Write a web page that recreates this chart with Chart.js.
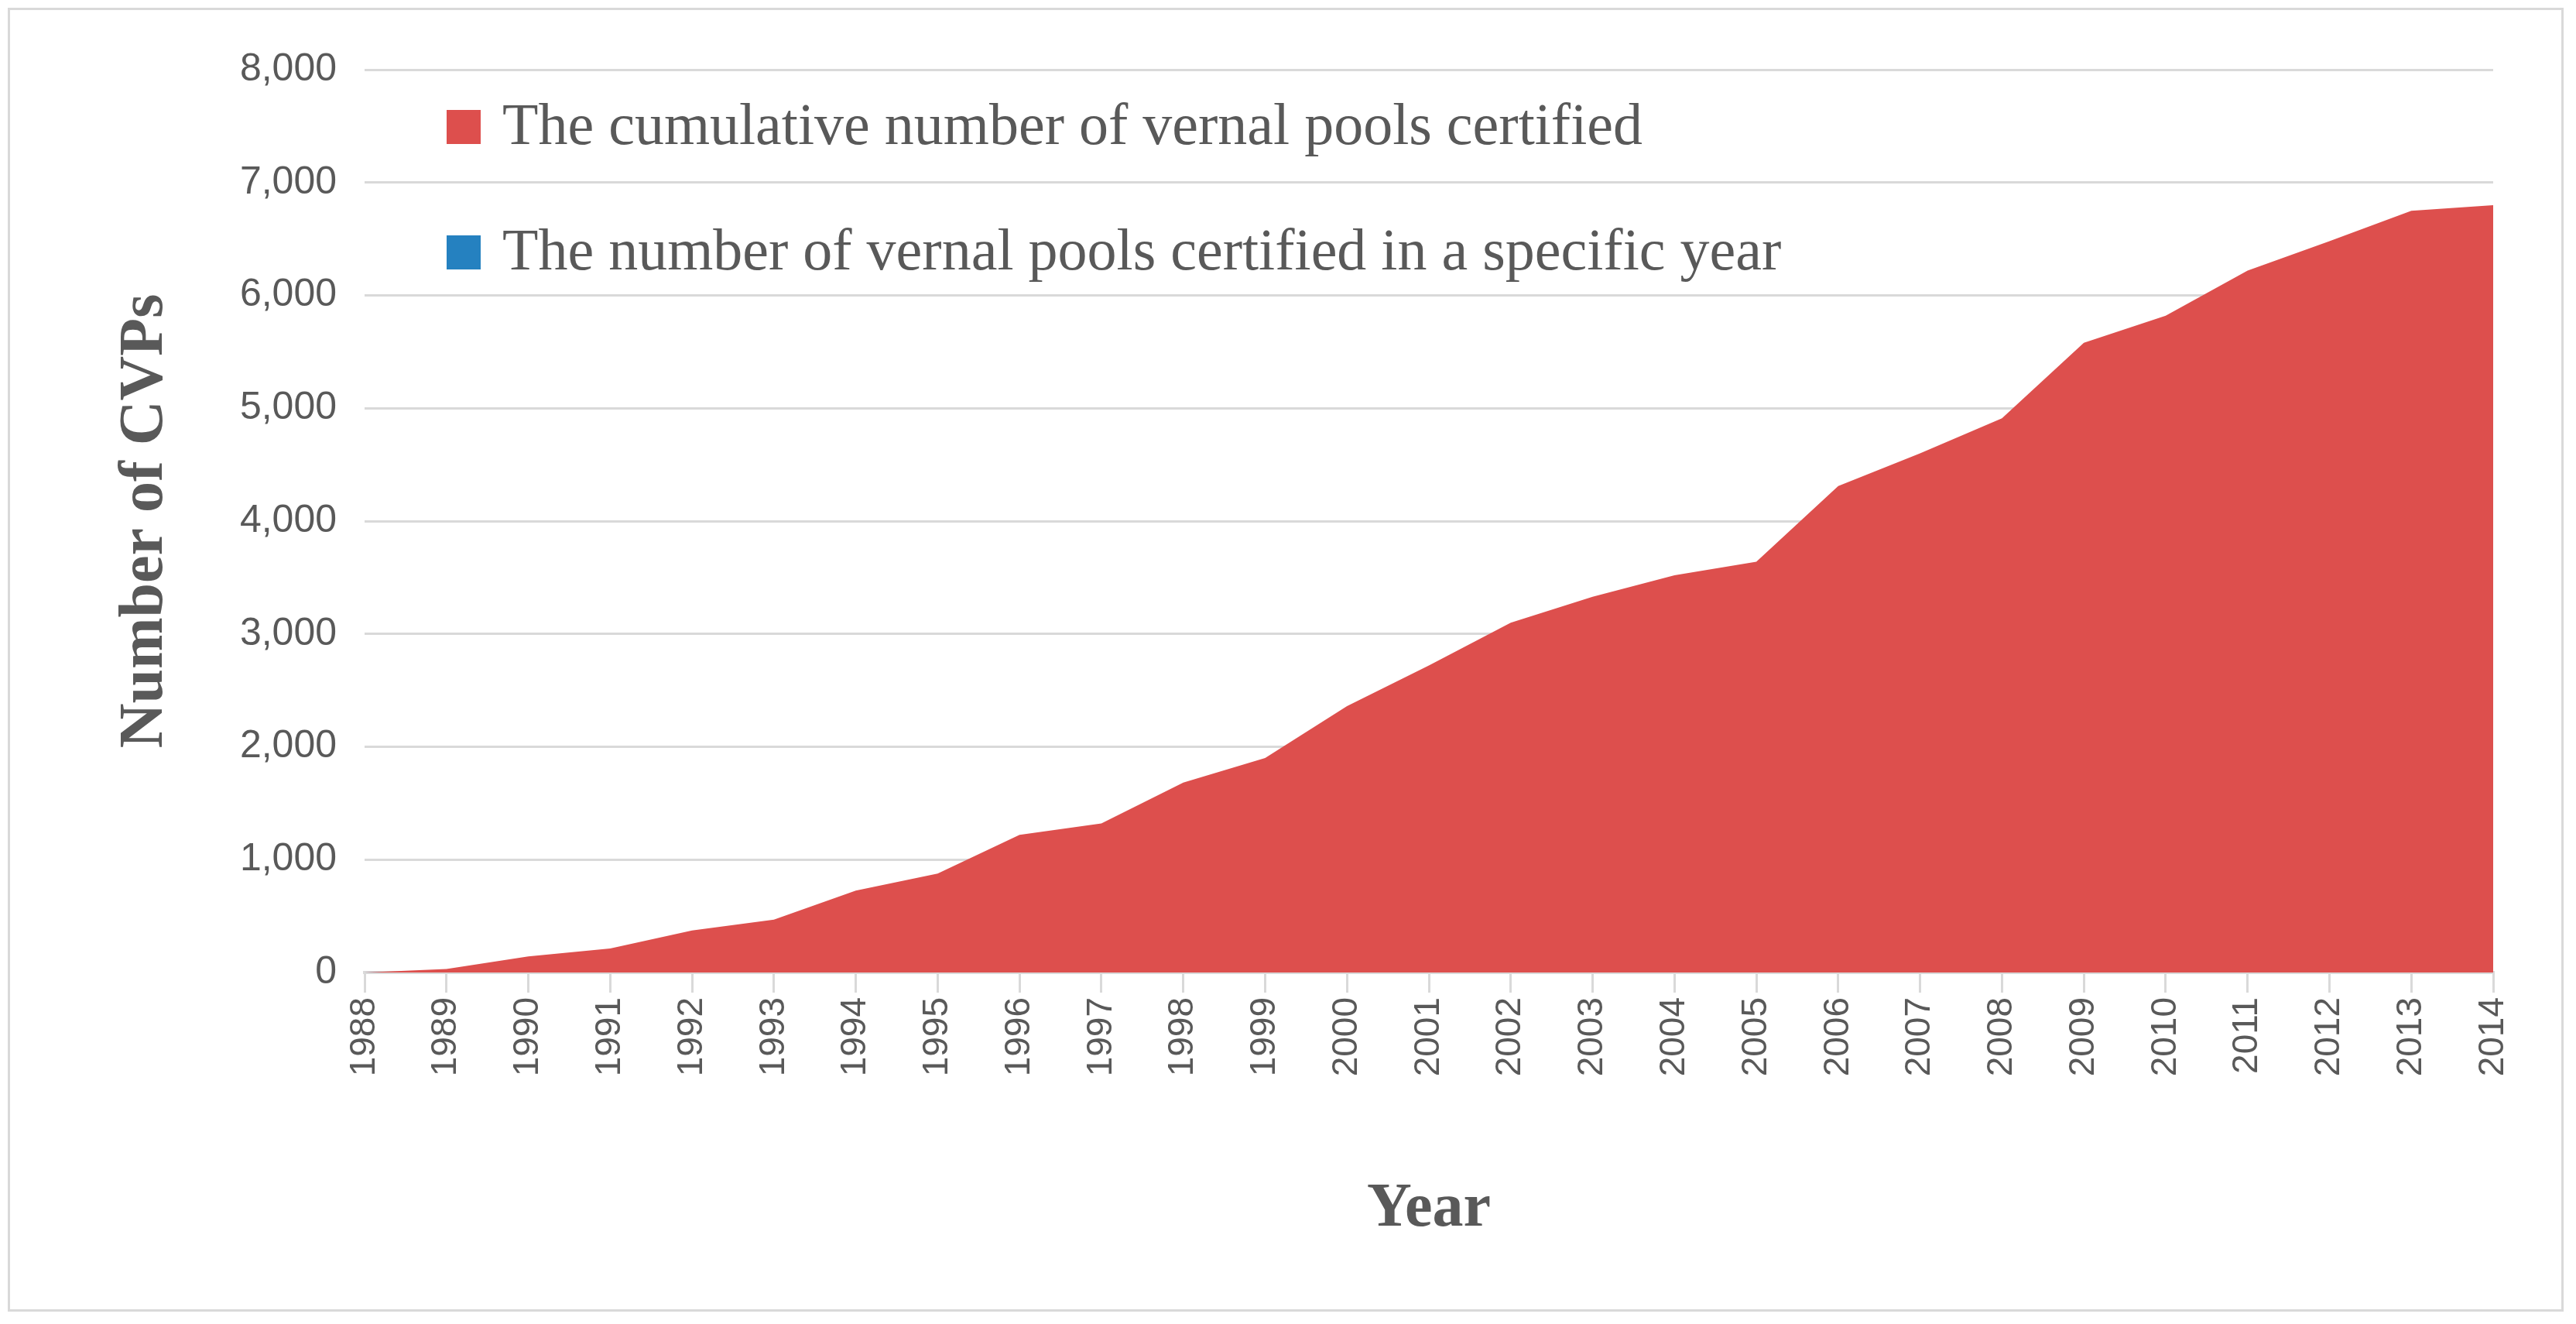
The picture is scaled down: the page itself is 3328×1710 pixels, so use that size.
<!DOCTYPE html>
<html><head><meta charset="utf-8">
<script src="https://cdn.jsdelivr.net/npm/chart.js@4"></script>
<style>
html,body{margin:0;padding:0;background:#fff;}
#wrap{position:absolute;left:0;top:0;width:3328px;height:1710px;}
#frame{position:absolute;left:10px;top:10px;width:3302px;height:1684px;border:3px solid #d9d9d9;box-sizing:border-box;pointer-events:none;}
</style></head><body>
<div id="wrap"><canvas id="c" width="3328" height="1710"></canvas><div id="frame"></div></div>
<script>
const years = ['1988','1989','1990','1991','1992','1993','1994','1995','1996','1997','1998','1999','2000','2001','2002','2003','2004','2005','2006','2007','2008','2009','2010','2011','2012','2013','2014'];
const cumulative = [0,31,142,213,372,469,725,877,1220,1320,1682,1900,2360,2720,3100,3330,3520,3640,4310,4600,4910,5580,5820,6220,6480,6750,6800];
const perYear = [0,17,76,47,126,78,220,137,315,76,329,220,424,355,355,206,168,95,659,270,280,659,225,372,235,254,24];
const yTicks = [0,1000,2000,3000,4000,5000,6000,7000,8000];
const labelCum = 'The cumulative number of vernal pools certified';
const labelYear = 'The number of vernal pools certified in a specific year';

const legendPlugin = {
  id:'legendIn',
  afterDraw(chart){
    const ctx = chart.ctx;
    const a = chart.chartArea;
    const items = chart.data.datasets;
    ctx.save();
    ctx.font = '76px "Liberation Serif"';
    ctx.textBaseline = 'middle';
    items.forEach((d,i)=>{
      const y = 164 + i*162;
      const x = 577;
      ctx.fillStyle = d.backgroundColor;
      ctx.fillRect(x, y-22, 44, 44);
      ctx.fillStyle = '#595959';
      ctx.fillText(d.label, x+72, y+2);
    });
    ctx.restore();
  }
};

new Chart(document.getElementById('c'), {
  type:'line',
  data:{labels:years, datasets:[
    {label:labelCum, data:cumulative, fill:'origin', backgroundColor:'#dd4f4d', borderWidth:0, pointRadius:0, tension:0},
    {label:labelYear, data:perYear, fill:'origin', backgroundColor:'#2581c0', borderWidth:0, pointRadius:0, tension:0}
  ]},
  options:{
    responsive:false, animation:false, devicePixelRatio:1,
    layout:{padding:{left:140, right:107, top:90, bottom:100}},
    plugins:{legend:{display:false}, tooltip:{enabled:false}},
    scales:{
      x:{offset:false,
        grid:{drawOnChartArea:false, color:'#d9d9d9', lineWidth:3, tickLength:26},
        border:{color:'#d9d9d9', width:4},
        ticks:{color:'#595959', font:{family:'Liberation Sans', size:46}, maxRotation:90, minRotation:90, autoSkip:false, padding:6},
        title:{display:true, text:'Year', color:'#595959', font:{family:'Liberation Serif', size:80, weight:'bold'}, padding:0},
        afterFit(s){ s.height = 354; }
      },
      y:{min:0, max:8000,
        afterBuildTicks(s){ s.ticks = yTicks.map(v=>({value:v})); },
        grid:{color:'#d9d9d9', lineWidth:3, drawTicks:false},
        border:{display:false},
        ticks:{color:'#595959', font:{family:'Liberation Sans', size:50}, padding:36},
        title:{display:true, text:'Number of CVPs', color:'#595959', font:{family:'Liberation Serif', size:80, weight:'bold'}, padding:0},
        afterFit(s){ s.width = 331; }
      }
    }
  },
  plugins:[legendPlugin]
});
</script></body></html>
